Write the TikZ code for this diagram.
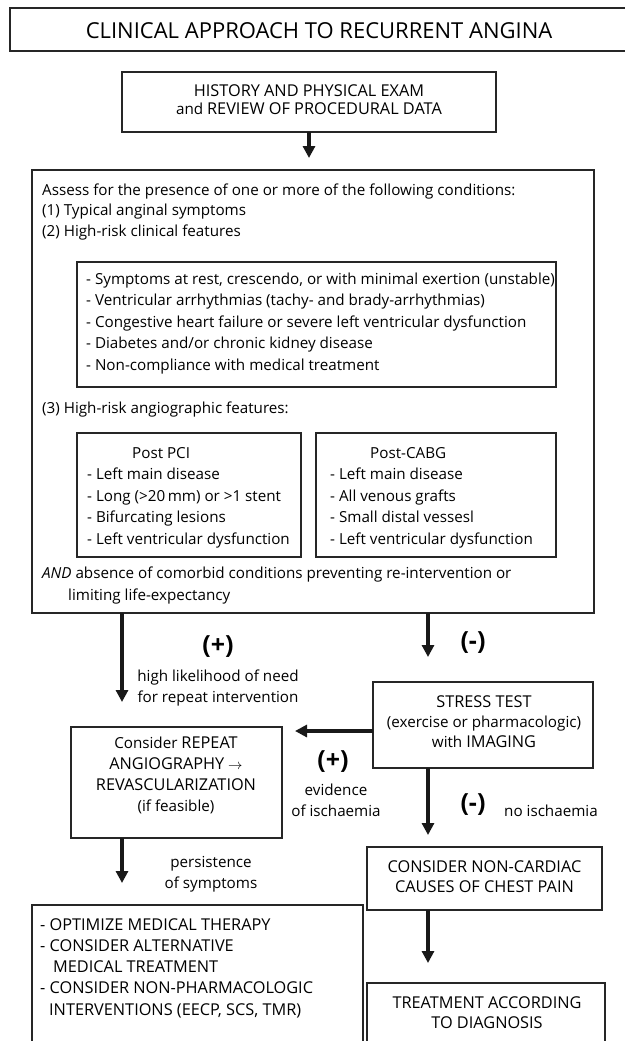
\documentclass[tikz,border=0pt]{standalone}
\usepackage{fontspec}
\setmainfont{Open Sans}
\usetikzlibrary{arrows.meta}
\newcommand\capsz{\fontsize{16.3}{21}\selectfont}
\begin{document}
\begin{tikzpicture}[x=1pt,y=-1pt,
  box/.style={draw=black!85, line width=1.1pt, inner sep=0pt, outer sep=0pt, anchor=north west},
  lc/.style={font=\fontsize{15.2}{21}\selectfont, inner sep=0pt, align=left},
  cc/.style={font=\fontsize{15.2}{21}\selectfont, inner sep=0pt, align=center, anchor=north},
  sign/.style={font=\fontsize{25}{28}\selectfont\bfseries, inner sep=0pt},
  arr/.style={line width=4.2pt, draw=black!90, -{Triangle[length=12pt,width=12pt]}}]
\useasboundingbox (0,0) rectangle (624,1041);
% boxes
\node[box, minimum width=630pt, minimum height=43pt] (titlebox) at (10,8) {};
\node[box, minimum width=374pt, minimum height=60pt] (hist) at (122,72) {};
\node[box, minimum width=562pt, minimum height=443pt] (big) at (32,170) {};
\node[box, minimum width=479pt, minimum height=125pt] (clin) at (77,262) {};
\node[box, minimum width=224pt, minimum height=124pt] (pci) at (77,433) {};
\node[box, minimum width=240pt, minimum height=124pt] (cabg) at (316,433) {};
\node[box, minimum width=220pt, minimum height=86pt] (stress) at (373,682) {};
\node[box, minimum width=211pt, minimum height=111pt] (rep) at (71,727) {};
\node[box, minimum width=235pt, minimum height=63pt] (noncard) at (367,847) {};
\node[box, minimum width=331pt, minimum height=160pt] (optim) at (32,905) {};
\node[box, minimum width=238pt, minimum height=90pt] (treat) at (367,983) {};
% texts
\node[font=\fontsize{22}{26}\selectfont, inner sep=0pt] (ttl) at (319,31) {CLINICAL APPROACH TO RECURRENT ANGINA};
\node[cc, font=\fontsize{15.2}{18}\selectfont] (histtxt) at (309,83.4) {\strut{\capsz HISTORY AND PHYSICAL EXAM}\\and {\capsz REVIEW OF PROCEDURAL DATA}};
\node[lc, anchor=north west, font=\fontsize{15.2}{20.5}\selectfont] (assess) at (42,180.6) {\strut Assess for the presence of one or more of the following conditions:\\(1) Typical anginal symptoms\\(2) High-risk clinical features};
\node[lc, anchor=north west, font=\fontsize{15.2}{21.5}\selectfont] (clintxt) at (86,269) {\strut - Symptoms at rest, crescendo, or with minimal exertion (unstable)\\- Ventricular arrhythmias (tachy- and brady-arrhythmias)\\- Congestive heart failure or severe left ventricular dysfunction\\- Diabetes and/or chronic kidney disease\\- Non-compliance with medical treatment};
\node[lc, anchor=north west] (angio) at (42,398.3) {\strut (3) High-risk angiographic features:};
\node[lc, anchor=north west, font=\fontsize{15.2}{21.5}\selectfont] (pcitxt) at (87,443) {\strut\hspace*{45pt}Post PCI\\- Left main disease\\- Long (>20\,mm) or >1 stent\\- Bifurcating lesions\\- Left ventricular dysfunction};
\node[lc, anchor=north west, font=\fontsize{15.2}{21.5}\selectfont] (cabgtxt) at (330,443) {\strut\hspace*{40pt}Post-CABG\\- Left main disease\\- All venous grafts\\- Small distal vessesl\\- Left ventricular dysfunction};
\node[lc, anchor=north west, font=\fontsize{15.2}{22}\selectfont] (andtxt) at (42,562.6) {\strut\textit{AND} absence of comorbid conditions preventing re-intervention or\\\hspace*{26pt}limiting life-expectancy};
\node[sign] (plus1) at (218,647) {(+)};
\node[sign] (minus1) at (473,643) {(-)};
\node[cc] (likely) at (218,666.3) {\strut high likelihood of need\\for repeat intervention};
\node[cc, font=\fontsize{15.2}{20}\selectfont] (stresstxt) at (484,693) {\strut{\capsz STRESS TEST}\\(exercise or pharmacologic)\\with {\capsz IMAGING}};
\node[cc] (reptxt) at (176,734) {\strut Consider {\capsz REPEAT}\\{\capsz ANGIOGRAPHY} $\rightarrow$\\{\capsz REVASCULARIZATION}\\(if feasible)};
\node[sign] (plus2) at (333,762) {(+)};
\node[cc] (evid) at (336,780.3) {\strut evidence\\of ischaemia};
\node[sign] (minus2) at (473,805) {(-)};
\node[lc, anchor=base west] (noisch) at (504,816) {no ischaemia};
\node[cc, font=\fontsize{16.3}{20}\selectfont] (nctxt) at (484.5,858) {\strut CONSIDER NON-CARDIAC\\CAUSES OF CHEST PAIN};
\node[cc] (persist) at (211,852.3) {\strut persistence\\of symptoms};
\node[lc, anchor=north west, font=\fontsize{16.3}{21.25}\selectfont] (optxt) at (40,915.1) {\strut - OPTIMIZE MEDICAL THERAPY\\- CONSIDER ALTERNATIVE\\\hspace*{13pt}MEDICAL TREATMENT\\- CONSIDER NON-PHARMACOLOGIC\\\hspace*{9pt}INTERVENTIONS (EECP, SCS, TMR)};
\node[cc, font=\fontsize{16.3}{20}\selectfont] (trtxt) at (487,994) {\strut TREATMENT ACCORDING\\TO DIAGNOSIS};
% arrows
\coordinate (a0) at (309,158);
\coordinate (a1) at (122,702);
\coordinate (a2) at (428,657);
\coordinate (a3) at (295,731);
\coordinate (a4) at (428,835);
\coordinate (a5) at (122,883);
\coordinate (a6) at (428,963);
\draw[arr] (hist.south -| a0) -- (a0);
\draw[arr] (big.south -| a1) -- (a1);
\draw[arr] (big.south -| a2) -- (a2);
\draw[arr] (stress.west |- a3) -- (a3);
\draw[arr] (stress.south -| a4) -- (a4);
\draw[arr] (rep.south -| a5) -- (a5);
\draw[arr] (noncard.south -| a6) -- (a6);
\end{tikzpicture}
\end{document}
